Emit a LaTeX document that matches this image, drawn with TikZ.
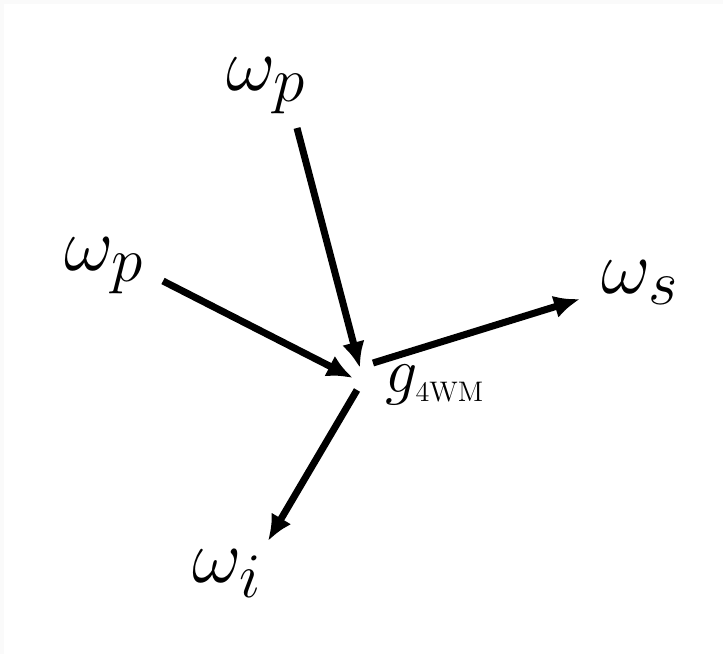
\documentclass[tikz,border=0pt]{standalone}
\usetikzlibrary{arrows.meta}
\tikzset{
  beam/.style={->,line width=3.5pt},
  freq/.style={anchor=base west,inner sep=0pt,font=\Huge,scale=1.53},
}
\begin{document}
\begin{tikzpicture}[x=0.5pt,y=-0.5pt,>={Latex[length=13pt,width=11.5pt]}]
    \useasboundingbox (0,0) rectangle (723,654);
    \fill[black!2] (0,0) rectangle (723,654);
    \fill[white] (4,4) rectangle (723,654);
    % labels
    \node[freq] (PumpTop) at (226,90) {$\omega_p$};
    \node[freq] (PumpLeft) at (64,270) {$\omega_p$};
    \node[freq] (Signal) at (601,293) {$\omega_s$};
    \node[freq] (Idler) at (192,582) {$\omega_i$};
    \node[freq,scale=0.84] (Gain) at (385,392) {$g_{\mbox{\fontsize{11}{13}\selectfont 4WM}}$};
    % arrow ends near the vertex
    \coordinate (TopIn) at (297,128);
    \coordinate (TopTip) at (360,368);
    \coordinate (LeftIn) at (163,281);
    \coordinate (LeftTip) at (353,378);
    \coordinate (SigOut) at (373,363);
    \coordinate (SigTip) at (580,299);
    \coordinate (IdlOut) at (357,390);
    \coordinate (IdlTip) at (268,541);
    % beams
    \draw[beam] (TopIn) -- (TopTip);
    \draw[beam] (LeftIn) -- (LeftTip);
    \draw[beam] (SigOut) -- (SigTip);
    \draw[beam] (IdlOut) -- (IdlTip);
\end{tikzpicture}
\end{document}
